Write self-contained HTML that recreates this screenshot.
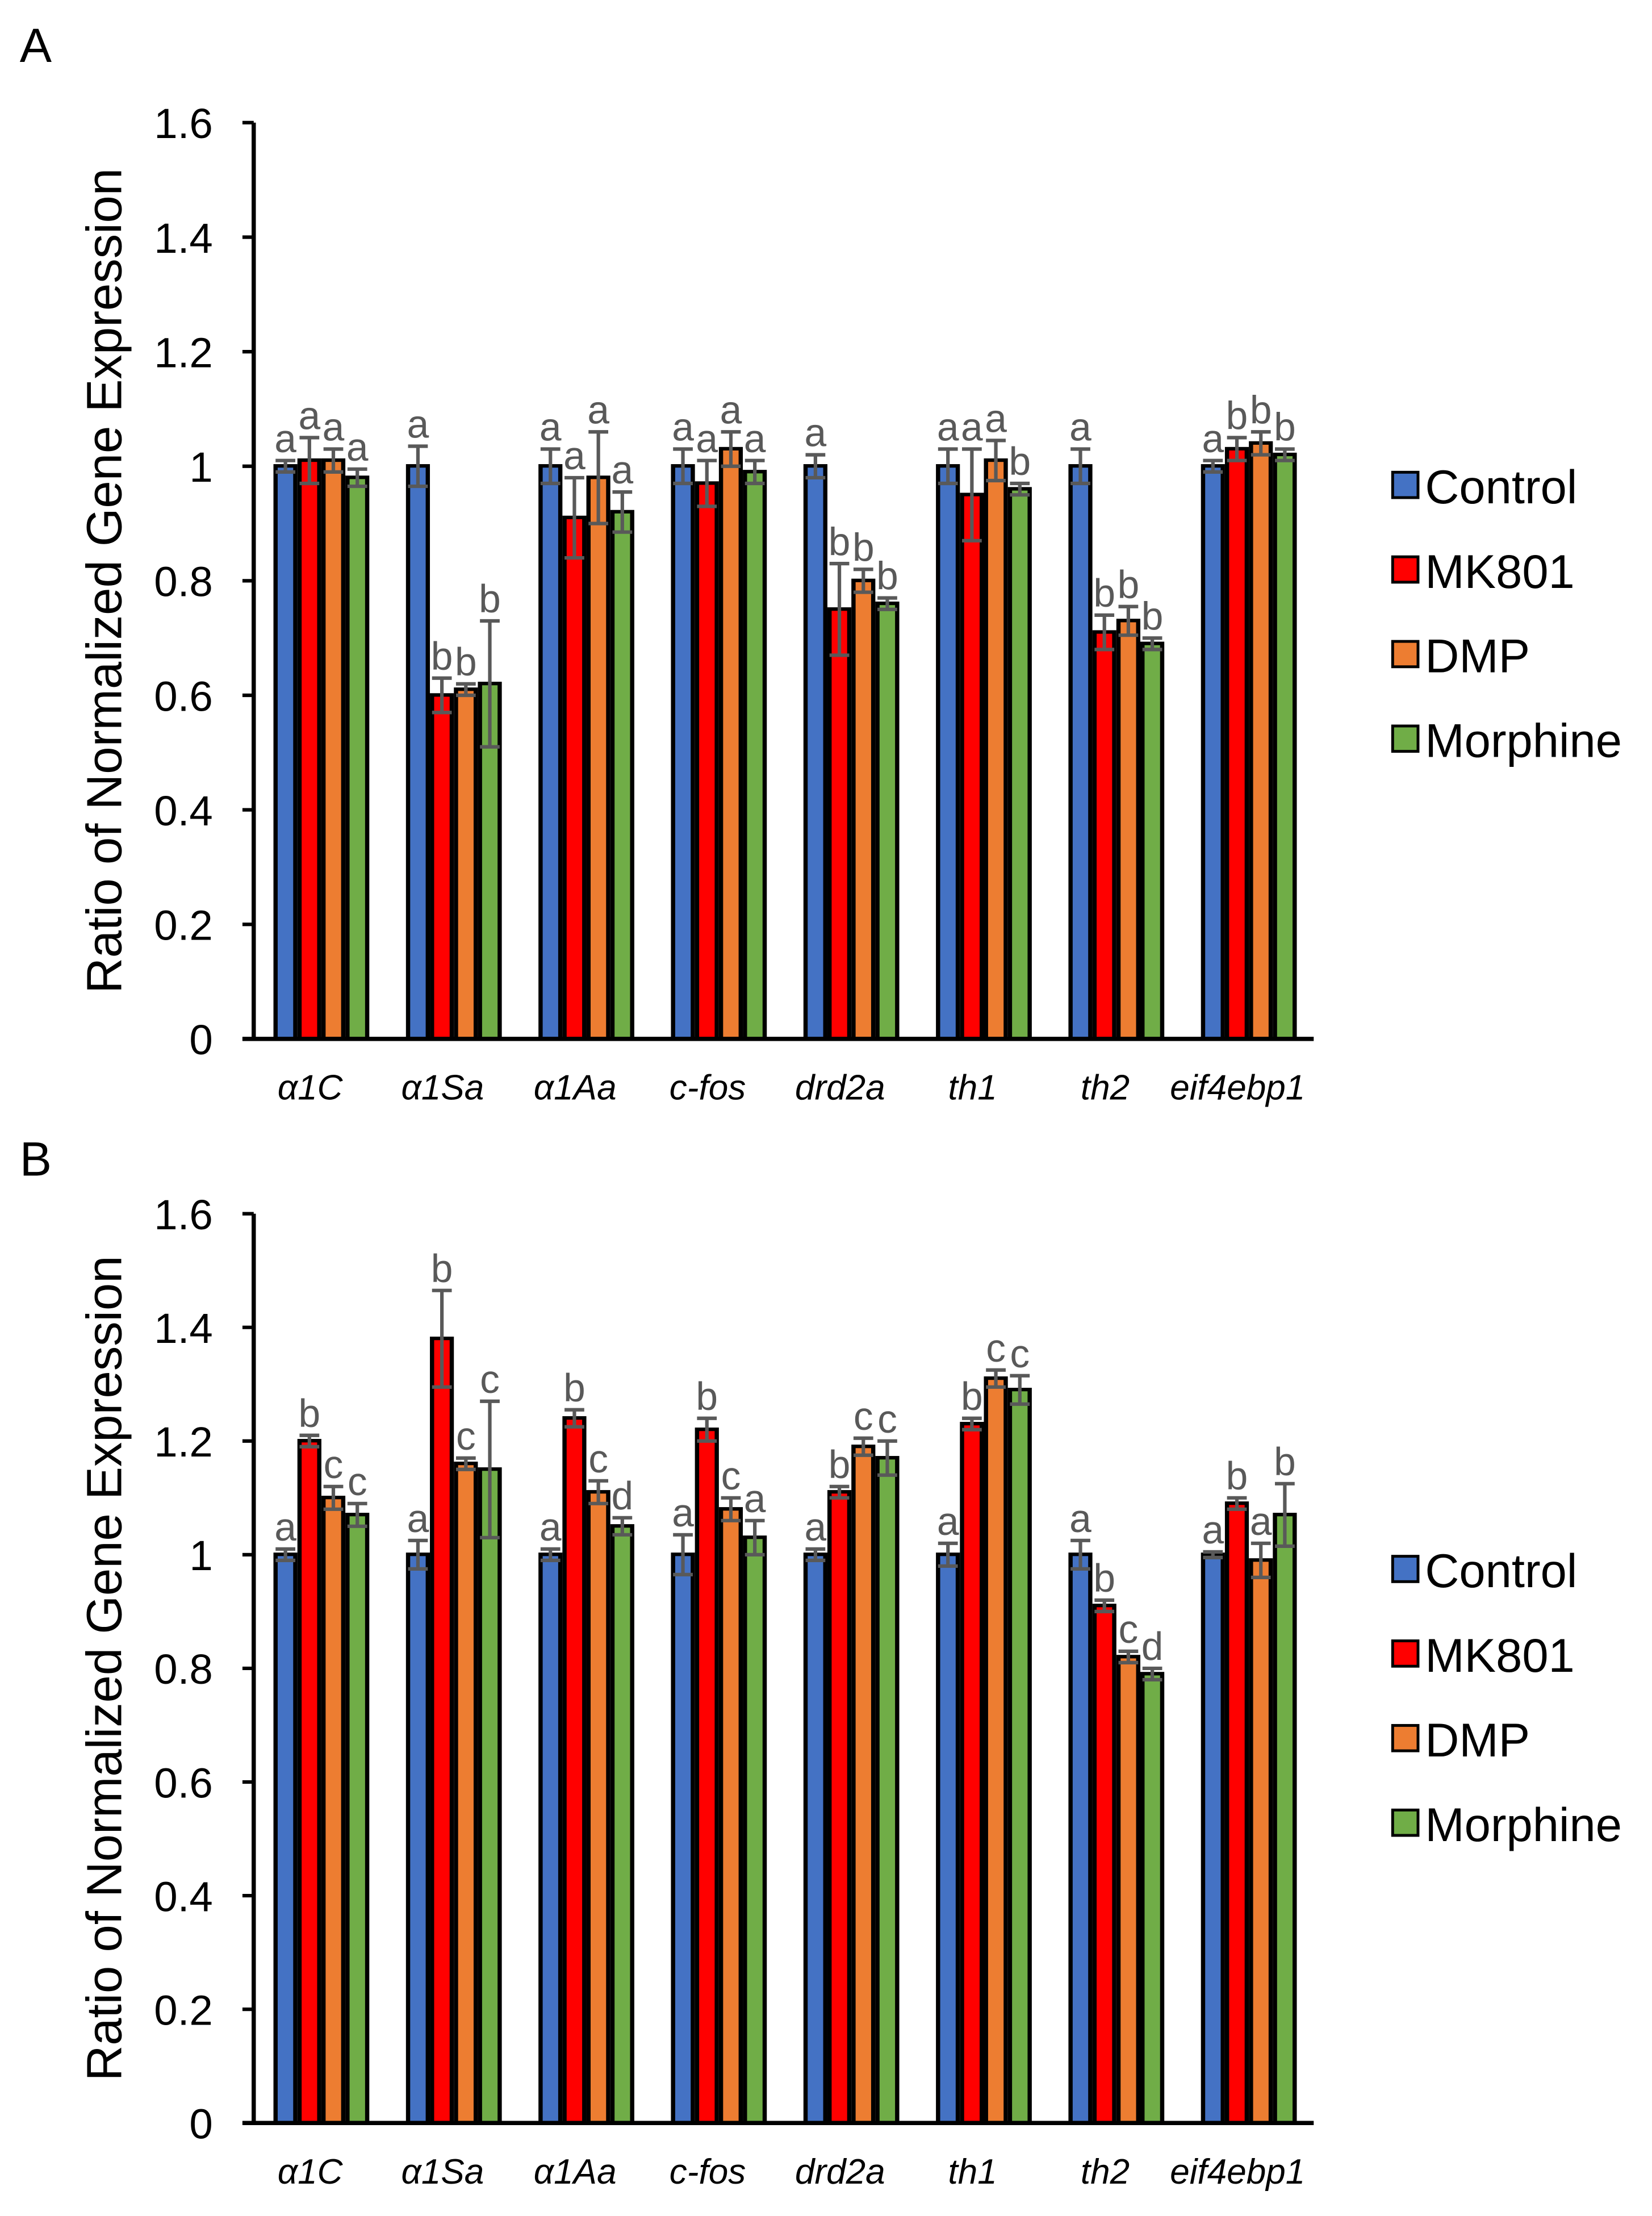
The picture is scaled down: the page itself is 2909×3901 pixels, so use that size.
<!DOCTYPE html>
<html><head><meta charset="utf-8"><style>
html,body{margin:0;padding:0;background:#fff;}
svg{display:block;font-family:"Liberation Sans",Arial,sans-serif;}
</style></head><body>
<svg id="chart" width="2909" height="3901" viewBox="0 0 1172 1572" preserveAspectRatio="none" xmlns="http://www.w3.org/2000/svg"></svg>
<script>
const categories = ["α1C","α1Sa","α1Aa","c-fos","drd2a","th1","th2","eif4ebp1"];
const seriesNames = ["Control","MK801","DMP","Morphine"];
const colors = ["#4472C4","#FF0000","#ED7D31","#70AD47"];
const yTicks = [0,0.2,0.4,0.6,0.8,1,1.2,1.4,1.6];
const tickLabels = ["0","0.2","0.4","0.6","0.8","1","1.2","1.4","1.6"];
// Panel A
const aControl = [1.0,1.0,1.0,1.0,1.0,1.0,1.0,1.0];
const aMK801 = [1.01,0.60,0.91,0.97,0.75,0.95,0.71,1.03];
const aDMP = [1.01,0.61,0.98,1.03,0.80,1.01,0.73,1.04];
const aMorphine = [0.98,0.62,0.92,0.99,0.76,0.96,0.69,1.02];
const aErrControl = [0.01,0.035,0.03,0.03,0.02,0.03,0.03,0.01];
const aErrMK801 = [0.04,0.03,0.07,0.04,0.08,0.08,0.03,0.02];
const aErrDMP = [0.02,0.01,0.08,0.03,0.02,0.035,0.025,0.02];
const aErrMorphine = [0.015,0.11,0.035,0.02,0.01,0.01,0.01,0.01];
const aLetters = [["a","a","a","a"],["a","b","b","b"],["a","a","a","a"],["a","a","a","a"],["a","b","b","b"],["a","a","a","b"],["a","b","b","b"],["a","b","b","b"]];
// Panel B
const bControl = [1.0,1.0,1.0,1.0,1.0,1.0,1.0,1.0];
const bMK801 = [1.20,1.38,1.24,1.22,1.11,1.23,0.91,1.09];
const bDMP = [1.10,1.16,1.11,1.08,1.19,1.31,0.82,0.99];
const bMorphine = [1.07,1.15,1.05,1.03,1.17,1.29,0.79,1.07];
const bErrControl = [0.01,0.025,0.01,0.035,0.01,0.02,0.025,0.005];
const bErrMK801 = [0.01,0.085,0.015,0.02,0.01,0.01,0.01,0.01];
const bErrDMP = [0.02,0.01,0.02,0.02,0.015,0.015,0.01,0.03];
const bErrMorphine = [0.02,0.12,0.015,0.03,0.03,0.025,0.01,0.055];
const bLetters = [["a","b","c","c"],["a","b","c","c"],["a","b","c","d"],["a","b","c","a"],["a","b","c","c"],["a","b","c","c"],["a","b","c","d"],["a","b","a","b"]];

const NS="http://www.w3.org/2000/svg";
const svg=document.getElementById('chart');
function mk(tag,attrs,parent,text){const e=document.createElementNS(NS,tag);for(const k in attrs)e.setAttribute(k,attrs[k]);if(text!==undefined)e.textContent=text;(parent||svg).appendChild(e);return e;}

function panel(id,label,labelY,y0,y16,vals,errs,letters,legendY){
  const g=mk('g',{});
  
  
  const yS=v=>y0-(y0-y16)*v/1.6;
  const xC=i=>228+94*i;
  const pl=mk('text',{x:14,y:labelY,'font-size':34,fill:'#000'},g,label);
  
  
  yTicks.forEach((t,i)=>{
    const y=yS(t);
    const tk=mk('line',{x1:172,x2:180,y1:y,y2:y,stroke:'#000','stroke-width':2.5},g);
    
    
    const tl=mk('text',{x:151,y:y+11,'font-size':30,'text-anchor':'end',fill:'#000'},g,tickLabels[i]);
    
    
  });
  const yt=mk('text',{x:0,y:0,'font-size':35,'text-anchor':'middle',fill:'#000',transform:`translate(86,${(y0+y16)/2}) rotate(-90)`},g,'Ratio of Normalized Gene Expression');
  
  
  const offs=[-25.5,-8.5,8.5,25.5];
  categories.forEach((c,i)=>{
    for(let s=0;s<4;s++){
      const v=vals[s][i], e=errs[s][i];
      const cx=xC(i)+offs[s];
      const yt=yS(v);
      const ob=mk('rect',{x:cx-8.5,y:yt-1.5,width:17,height:y0-yt+1.5,fill:'#000'},g);
      
      
      const b=mk('rect',{x:cx-5.5,y:yt+1,width:11,height:y0-yt-1,fill:colors[s]},g);
      
      
      const yhi=yS(v+e), ylo=yS(v-e);
      const eb=mk('path',{d:`M${cx},${yhi}V${ylo}M${cx-7},${yhi}H${cx+7}M${cx-7},${ylo}H${cx+7}`,stroke:'#595959','stroke-width':2.5,fill:'none'},g);
      
      
      const lt=mk('text',{x:cx,y:yhi-6,'font-size':28,'text-anchor':'middle',fill:'#595959'},g,letters[i][s]);
      
      
    }
    const xl=mk('text',{x:xC(i)-8,y:y0+43,'font-size':25,'font-style':'italic','text-anchor':'middle',fill:'#000'},g,c);
    
    
  });
  const ya=mk('line',{x1:180,x2:180,y1:y16,y2:y0,stroke:'#000','stroke-width':3},g);
  
  
  const xa=mk('line',{x1:172,x2:932,y1:y0,y2:y0,stroke:'#000','stroke-width':3},g);
  
  
  seriesNames.forEach((n,s)=>{
    const ly=legendY+60*s;
    const sq=mk('rect',{x:988,y:ly-10,width:18,height:18,fill:colors[s],stroke:'#000','stroke-width':2},g);
    
    
    const lt=mk('text',{x:1011,y:ly+12,'font-size':33.5,fill:'#000'},g,n);
    
    
  });
}
panel('a','A',44,737,87,[aControl,aMK801,aDMP,aMorphine],[aErrControl,aErrMK801,aErrDMP,aErrMorphine],aLetters,345);
panel('b','B',834,1506,861,[bControl,bMK801,bDMP,bMorphine],[bErrControl,bErrMK801,bErrDMP,bErrMorphine],bLetters,1114);
</script>
</body></html>
